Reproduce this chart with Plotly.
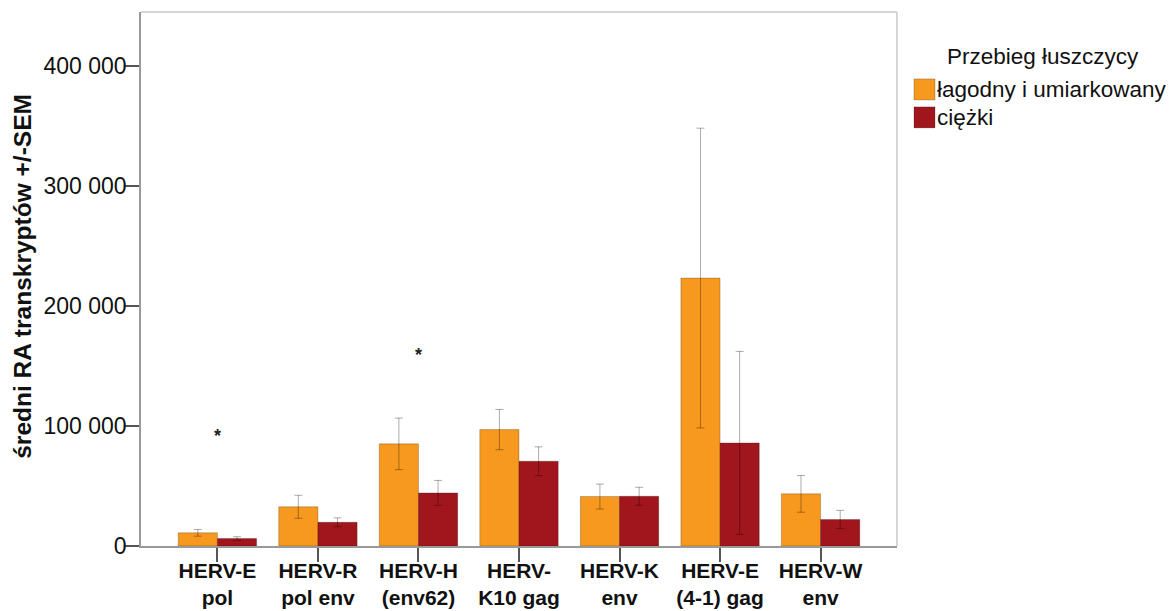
import plotly.graph_objects as go

# Gene targets (x categories) and group means with SEM
categories = ["HERV-E<br>pol", "HERV-R<br>pol env", "HERV-H<br>(env62)", "HERV-<br>K10 gag",
              "HERV-K<br>env", "HERV-E<br>(4-1) gag", "HERV-W<br>env"]
mild_means = [11000, 32700, 85200, 97100, 41250, 223500, 43500]
mild_sem = [2800, 9600, 21500, 16800, 10400, 125000, 15300]
severe_means = [6250, 19800, 44300, 70700, 41500, 86000, 22100]
severe_sem = [1500, 3700, 10400, 12000, 7500, 76300, 7600]

series_names = ["łagodny i umiarkowany", "ciężki"]
series_colors = ["#F7991E", "#A1161C"]
legend_title = "Przebieg łuszczycy"
y_title = "średni RA transkryptów +/-SEM"

# Significance markers: (category index, height)
sig_marks = [(0, 94600), (2, 162000)]

FONT = "Liberation Sans, Arial, sans-serif"

# Plot-area geometry in pixels (used for the hand-drawn legend and title)
W, H = 1176, 611
L, R, T, B = 141, 897, 12, 546.5


def px_x(px):
    return (px - L) / (R - L)


def px_y(py):
    return (B - py) / (B - T)


fig = go.Figure()
err_color = "rgba(0,0,0,0.33)"
for name, means, sem, color in [
    (series_names[0], mild_means, mild_sem, series_colors[0]),
    (series_names[1], severe_means, severe_sem, series_colors[1]),
]:
    fig.add_trace(go.Bar(
        x=list(range(len(categories))), y=means, name=name,
        marker=dict(color=color, line=dict(color="rgba(0,0,0,0.22)", width=1)),
        error_y=dict(type="data", array=sem, visible=True, color=err_color,
                     thickness=1, width=4),
        showlegend=False,
    ))

for idx, yv in sig_marks:
    fig.add_annotation(x=idx, y=yv, text="<b>*</b>", showarrow=False,
                       font=dict(family=FONT, size=18, color="#222"),
                       xanchor="center", yanchor="middle", yshift=-3)

# Y-axis title, rotated
fig.add_annotation(xref="paper", yref="paper", x=px_x(23), y=px_y(277),
                   text=f"<b>{y_title}</b>", textangle=-90, showarrow=False,
                   xanchor="center", yanchor="middle",
                   font=dict(family=FONT, size=24.5, color="#111"))

# Legend: title, swatches and labels
fig.add_annotation(xref="paper", yref="paper", x=px_x(945), y=px_y(57),
                   text=legend_title, showarrow=False, xanchor="left", yanchor="middle",
                   font=dict(family=FONT, size=22.5, color="#111"))
for i, (name, color) in enumerate(zip(series_names, series_colors)):
    top = 79 + i * 28
    fig.add_shape(type="rect", xref="paper", yref="paper",
                  x0=px_x(914), x1=px_x(935), y0=px_y(top + 21), y1=px_y(top),
                  fillcolor=color, line=dict(color="rgba(0,0,0,0.22)", width=1))
    fig.add_annotation(xref="paper", yref="paper", x=px_x(935), y=px_y(top + 11),
                       text=name, showarrow=False, xanchor="left", yanchor="middle",
                       font=dict(family=FONT, size=22.5, color="#111"))

# Light frame on top and right of the plot area
fig.add_shape(type="line", xref="paper", yref="paper", x0=0, x1=1, y0=1, y1=1,
              line=dict(color="#C8C8C8", width=1.5))
fig.add_shape(type="line", xref="paper", yref="paper", x0=1, x1=1, y0=0, y1=1,
              line=dict(color="#C8C8C8", width=1.5))

fig.update_layout(
    width=W, height=H,
    margin=dict(l=L, r=W - R, t=T, b=H - B),
    paper_bgcolor="white", plot_bgcolor="white",
    barmode="group", bargap=0.22, bargroupgap=0,
    separators=", ",
    font=dict(family=FONT, color="#111"),
    xaxis=dict(
        range=[-0.76, 6.76], tickmode="array", tickvals=list(range(len(categories))),
        ticktext=[f"<b>{c}</b>" for c in categories],
        tickfont=dict(family=FONT, size=21, color="#111"),
        ticks="outside", ticklen=14, tickcolor="#555", tickwidth=1.5,
        ticklabelstandoff=-9,
        showline=True, linecolor="#999", linewidth=1.5, showgrid=False, zeroline=False,
        automargin=False,
    ),
    yaxis=dict(
        range=[0, 445400], tickvals=[0, 100000, 200000, 300000, 400000],
        tickformat=",d",
        tickfont=dict(family=FONT, size=23, color="#111"),
        ticks="outside", ticklen=14, tickcolor="#555", tickwidth=1.5,
        ticklabelstandoff=-6,
        showline=True, linecolor="#999", linewidth=1.5, showgrid=False, zeroline=False,
        automargin=False,
    ),
)

fig.write_html("out.html")
